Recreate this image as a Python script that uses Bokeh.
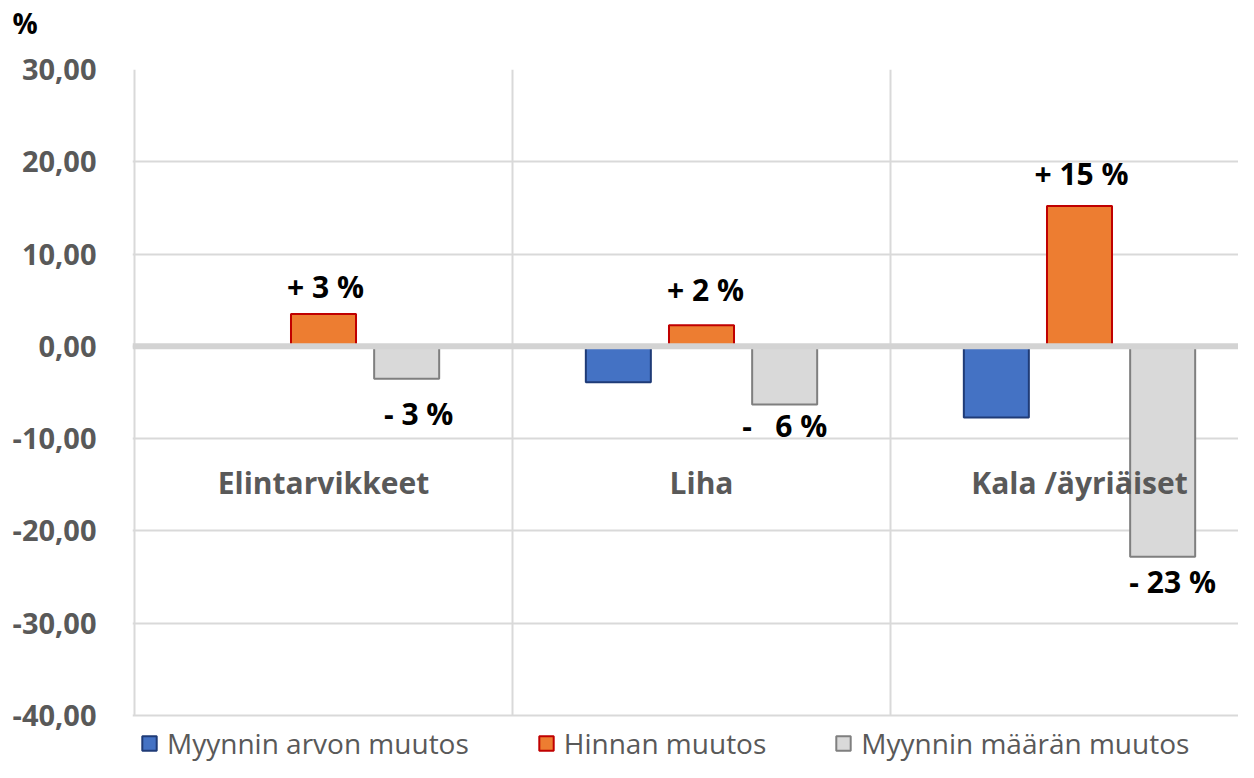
from bokeh.plotting import figure
from bokeh.models import (ColumnDataSource, Legend, LegendItem, Span, Label, FixedTicker,
                          CustomJSTickFormatter, Range1d, Title)
from bokeh.core.properties import value
from bokeh.embed import file_html
from bokeh.resources import INLINE

# ---- data ----
categories = ["Elintarvikkeet", "Liha", "Kala /äyriäiset"]
series_names = ["Myynnin arvon muutos", "Hinnan muutos", "Myynnin määrän muutos"]
arvo_muutos = [0.0, -3.9, -7.7]
hinta_muutos = [3.5, 2.3, 15.2]
maara_muutos = [-3.5, -6.3, -22.8]
price_labels = ["+ 3 %", "+ 2 %", "+ 15 %"]
volume_labels = ["- 3 %", "-\u00a0\u00a0 6 %", "- 23 %"]
y_ticks = [-40, -30, -20, -10, 0, 10, 20, 30]
unit_label = "%"

# ---- styling / layout ----
FONT = "Open Sans"
GRAY_TXT = "#595959"
GRID = "#d9d9d9"
fills = ["#4472C4", "#ED7D31", "#D9D9D9"]
lines = ["#1F3B77", "#C00000", "#7F7F7F"]
offsets = [-0.22, 0.0, 0.22]
bar_w = 0.172
price_dx = [2, 4, 2]
price_dy = [28, 36, 33]      # px above bar top
volume_dx = [12, 0, 10]
volume_dy = [35, 21, 25]     # px below bar end
CAT_LABEL_Y = -14.8

W, H = 1238, 762
LEFT, TOP = 132, 69
PLOT_BOTTOM = 715            # pixel row of the -40 gridline
px_per_cat = 378
px_per_unit = (PLOT_BOTTOM - TOP) / (y_ticks[-1] - y_ticks[0])
frame_w = W - LEFT
x0 = -2 / px_per_cat
# frame extends below the -40 line so the legend can live inside it
y_low = y_ticks[0] - (H - PLOT_BOTTOM) / px_per_unit

p = figure(width=W, height=H, output_backend="svg", toolbar_location=None,
           x_axis_location=None, x_range=Range1d(x0, x0 + frame_w / px_per_cat),
           y_range=Range1d(y_low, y_ticks[-1]),
           min_border_left=LEFT, min_border_right=0, min_border_top=TOP,
           min_border_bottom=0)
p.outline_line_color = None
p.background_fill_color = "white"
p.border_fill_color = "white"

# spacer title (nearest the frame) pushes the "%" title up to the top edge
spacer = Title(text=" ", standoff=23, text_font_size="1px", text_color="white")
p.add_layout(spacer, "above")
t = Title(text=unit_label, align="left", vertical_align="top", offset=-(LEFT - 12),
          standoff=0, text_font=FONT, text_font_style="bold", text_font_size="28px",
          text_color="black")
p.add_layout(t, "above")

# y axis
p.yaxis.ticker = FixedTicker(ticks=y_ticks)
p.yaxis.formatter = CustomJSTickFormatter(code="return tick.toFixed(2).replace('.', ',');")
p.yaxis.axis_line_color = None
p.yaxis.major_tick_line_color = None
p.yaxis.minor_tick_line_color = None
p.yaxis.major_label_text_font = FONT
p.yaxis.major_label_text_font_style = "bold"
p.yaxis.major_label_text_font_size = "29px"
p.yaxis.major_label_text_color = GRAY_TXT
p.yaxis.major_label_standoff = 30
p.ygrid.grid_line_color = GRID
p.ygrid.grid_line_width = 2
p.xgrid.visible = False

idx = list(range(len(categories)))

# vertical separators at category boundaries (from -40 to 30 only)
p.segment(x0=idx, y0=[y_ticks[0]] * len(idx), x1=idx, y1=[y_ticks[-1]] * len(idx),
          line_color=GRID, line_width=2)

series = [arvo_muutos, hinta_muutos, maara_muutos]
renderers = []
for k, vals in enumerate(series):
    src = ColumnDataSource(dict(x=[i + 0.5 + offsets[k] for i in idx], top=vals))
    r = p.vbar(x="x", top="top", bottom=0, width=bar_w, source=src,
               fill_color=fills[k], line_color=lines[k], line_width=2)
    renderers.append(r)

# zero line
p.add_layout(Span(location=0, dimension="width", line_color="#d3d3d3", line_width=6))

# data labels
for i in idx:
    p.add_layout(Label(x=i + 0.5 + offsets[1], y=hinta_muutos[i], text=price_labels[i],
                       x_offset=price_dx[i], y_offset=price_dy[i], text_align="center",
                       text_baseline="alphabetic",
                       text_font=FONT, text_font_style="bold", text_font_size="30px",
                       text_color="black"))
    p.add_layout(Label(x=i + 0.5 + offsets[2], y=maara_muutos[i], text=volume_labels[i],
                       x_offset=volume_dx[i], y_offset=-volume_dy[i], text_align="center",
                       text_baseline="alphabetic",
                       text_font=FONT, text_font_style="bold", text_font_size="30px",
                       text_color="black"))

# category labels
cat_src = ColumnDataSource(dict(x=[i + 0.5 for i in idx], y=[CAT_LABEL_Y] * len(idx),
                                t=categories))
p.text(x="x", y="y", text="t", source=cat_src, text_align="center",
       text_baseline="alphabetic",
       text_font=value(FONT), text_font_style="bold", text_font_size="30px",
       text_color=GRAY_TXT)

legend = Legend(items=[LegendItem(label=series_names[k], renderers=[renderers[k]])
                       for k in range(3)],
                orientation="horizontal", location=(8, 0),
                glyph_width=18, glyph_height=18, label_standoff=9, spacing=68,
                padding=0, margin=0, border_line_color=None, background_fill_alpha=0,
                label_text_font=FONT, label_text_font_size="28px",
                label_text_color=GRAY_TXT)
p.add_layout(legend, "center")

open("out.html", "w").write(file_html(p, INLINE))
